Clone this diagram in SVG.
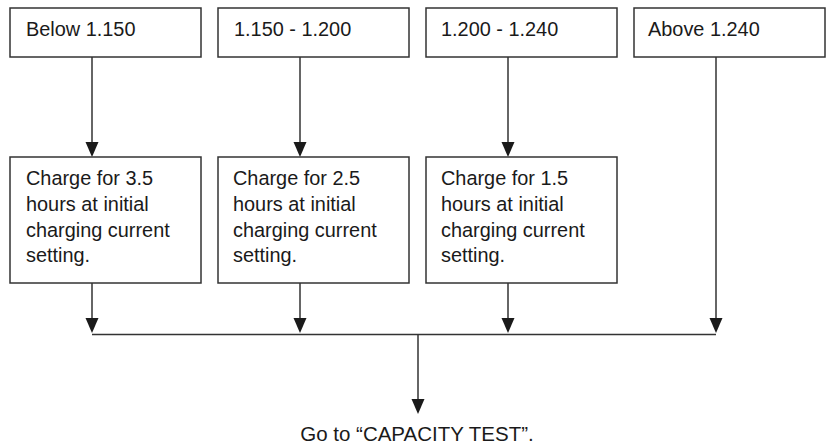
<svg xmlns="http://www.w3.org/2000/svg" width="829" height="447" viewBox="0 0 829 447">
  <style>
    .box { fill: #ffffff; stroke: #333333; stroke-width: 1.5; }
    .txt { font-family: "Liberation Sans", Arial, sans-serif; font-size: 19.9px; fill: #1a1a1a; }
    .line { fill: none; stroke: #333333; stroke-width: 1.5; }
    .head { fill: #1a1a1a; }
  </style>
  <defs>
    <!-- downward arrowhead, tip at origin -->
    <path id="arrowDown" class="head" d="M0,0 L-6.5,-15 L6.5,-15 Z"/>
  </defs>
  <rect width="829" height="447" fill="#ffffff"/>

  <!-- connectors -->
  <g id="connectors">
    <line class="line" x1="92" y1="57" x2="92" y2="145"/>
    <line class="line" x1="300" y1="57" x2="300" y2="145"/>
    <line class="line" x1="508" y1="57" x2="508" y2="145"/>
    <use href="#arrowDown" x="92" y="157"/>
    <use href="#arrowDown" x="300" y="157"/>
    <use href="#arrowDown" x="508" y="157"/>

    <line class="line" x1="92" y1="283" x2="92" y2="322"/>
    <line class="line" x1="300" y1="283" x2="300" y2="322"/>
    <line class="line" x1="508" y1="283" x2="508" y2="322"/>
    <line class="line" x1="716" y1="57" x2="716" y2="322"/>
    <use href="#arrowDown" x="92" y="333"/>
    <use href="#arrowDown" x="300" y="333"/>
    <use href="#arrowDown" x="508" y="333"/>
    <use href="#arrowDown" x="716" y="333"/>

    <line class="line" x1="92" y1="334.5" x2="716" y2="334.5"/>
    <line class="line" x1="418" y1="334.5" x2="418" y2="402"/>
    <use href="#arrowDown" x="418" y="414"/>
  </g>

  <!-- input ranges -->
  <g id="range-below-1150">
    <rect class="box" x="10" y="8" width="191" height="49"/>
    <text class="txt" x="26" y="36">Below 1.150</text>
  </g>
  <g id="range-1150-1200">
    <rect class="box" x="218" y="8" width="191" height="49"/>
    <text class="txt" x="234" y="36">1.150 - 1.200</text>
  </g>
  <g id="range-1200-1240">
    <rect class="box" x="426" y="8" width="191" height="49"/>
    <text class="txt" x="441" y="36">1.200 - 1.240</text>
  </g>
  <g id="range-above-1240">
    <rect class="box" x="634" y="8" width="191" height="49"/>
    <text class="txt" x="648" y="36">Above 1.240</text>
  </g>

  <!-- charge steps -->
  <g id="charge-3-5">
    <rect class="box" x="10" y="157" width="191" height="126"/>
    <text class="txt" x="26" y="185">Charge for 3.5</text>
    <text class="txt" x="26" y="211">hours at initial</text>
    <text class="txt" x="26" y="236.5">charging current</text>
    <text class="txt" x="26" y="261.5">setting.</text>
  </g>
  <g id="charge-2-5">
    <rect class="box" x="218" y="157" width="191" height="126"/>
    <text class="txt" x="233" y="185">Charge for 2.5</text>
    <text class="txt" x="233" y="211">hours at initial</text>
    <text class="txt" x="233" y="236.5">charging current</text>
    <text class="txt" x="233" y="261.5">setting.</text>
  </g>
  <g id="charge-1-5">
    <rect class="box" x="426" y="157" width="191" height="126"/>
    <text class="txt" x="441" y="185">Charge for 1.5</text>
    <text class="txt" x="441" y="211">hours at initial</text>
    <text class="txt" x="441" y="236.5">charging current</text>
    <text class="txt" x="441" y="261.5">setting.</text>
  </g>

  <!-- final step -->
  <g id="capacity-test">
    <text class="txt" x="417" y="441" text-anchor="middle" style="font-size:20.5px">Go to “CAPACITY TEST”.</text>
  </g>
</svg>
